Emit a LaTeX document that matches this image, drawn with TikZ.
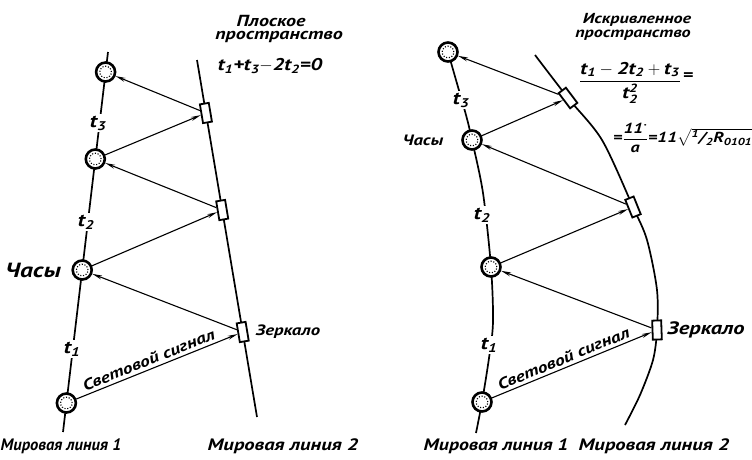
\documentclass[tikz,border=0pt]{standalone}
\usepackage{amsmath}
\usepackage{fontspec}
\setmainfont{PT Sans}[FakeStretch=1.25]
\usetikzlibrary{arrows.meta}
\newcommand{\fsz}[1]{\fontsize{#1}{#1}\selectfont}
\begin{document}
\begin{tikzpicture}[x=1pt,y=-1pt,
  every node/.style={font=\fsz{15.5}\bfseries\itshape},
  clock/.style={circle,draw,line width=2.6pt,fill=white,minimum size=19pt,inner sep=0pt,
     path picture={\draw[line width=1.1pt,dash pattern=on 1.1pt off 1.7pt] (path picture bounding box.center) circle (5.8pt);}},
  mirror/.style={rectangle,draw,line width=1.8pt,fill=white,minimum width=9pt,minimum height=19pt,inner sep=0pt},
  world/.style={line width=1.7pt},
  ray/.style={line width=1.1pt,-{Stealth[length=10pt,width=4pt]}},
  tlab/.style={fill=white,inner sep=2pt,font=\fsz{18}\bfseries\itshape},
  siglab/.style={sloped,above,inner sep=3pt,font=\fsz{15.5}\bfseries\itshape},
  wlab/.style={font=\fsz{16.5}\bfseries\itshape},
]
\useasboundingbox (0,0) rectangle (752,459);
% ---------------- left panel ----------------
\coordinate (L1a) at (108,52);
\coordinate (L1b) at (63,432);
\coordinate (L2a) at (197,60);
\coordinate (L2b) at (257,417);
\draw[world] (L1a) -- (L1b);
\draw[world] (L2a) -- (L2b);
\node[clock] (a1) at (66.4,403) {};
\node[clock] (a2) at (82.2,270) {};
\node[clock] (a3) at (95.3,159) {};
\node[clock] (a4) at (105.6,72) {};
\node[mirror,rotate=9.5] (am1) at (242.7,332) {};
\node[mirror,rotate=9.5] (am2) at (222.2,210) {};
\node[mirror,rotate=9.5] (am3) at (205.9,113) {};
\node[tlab] (at1) at (72,349) {t\textsubscript{1}};
\node[tlab] (at2) at (86,222) {t\textsubscript{2}};
\node[tlab] (at3) at (98,123) {t\textsubscript{3}};
\draw[ray] (a1) -- node[siglab,pos=0.47] (asig) {Световой сигнал} (am1);
\draw[ray] (am1) -- (a2);
\draw[ray] (a2) -- (am2);
\draw[ray] (am2) -- (a3);
\draw[ray] (a3) -- (am3);
\draw[ray] (am3) -- (a4);
\node[font=\fsz{20.5}\bfseries\itshape] (achasy) at (33,270) {Часы};
\node[font=\fsz{15}\bfseries\itshape] (azerk) at (288,332) {Зеркало};
\node[wlab,xscale=0.8,inner sep=0pt] (aml1) at (61,446) {Мировая линия 1};
\node[wlab] (aml2) at (283,446) {Мировая линия 2};
\node[font=\fsz{16}\bfseries\itshape] (aflat1) at (271,21) {Плоское};
\node[font=\fsz{16}\bfseries\itshape] (aflat2) at (279,37) {пространство};
\node[font=\fsz{17}\bfseries\itshape] (aform) at (270,66) {t\textsubscript{1}+t\textsubscript{3}$-$2t\textsubscript{2}=0};
% ---------------- right panel ----------------
\draw[world] plot[smooth] coordinates {(448,52) (456,80) (466,115) (472,140) (483,193) (491,267) (493,322) (489,358) (482,402) (476,433)};
\draw[world] plot[smooth] coordinates {(535,55) (568,98) (602,140) (633,207) (647,240) (657,290) (657,330) (653,360) (640,395) (625,425)};
\node[clock] (b1) at (482,402) {};
\node[clock] (b2) at (491,267) {};
\node[clock] (b3) at (472,140) {};
\node[clock] (b4) at (448,52) {};
\node[mirror,rotate=2] (bm1) at (657,330) {};
\node[mirror,rotate=22] (bm2) at (633,207) {};
\node[mirror,rotate=37] (bm3) at (568,98) {};
\node[tlab] (bt1) at (489,345) {t\textsubscript{1}};
\node[tlab] (bt2) at (482,215) {t\textsubscript{2}};
\node[tlab] (bt3) at (461,100) {t\textsubscript{3}};
\draw[ray] (b1) -- node[siglab,pos=0.47] (bsig) {Световой сигнал} (bm1);
\draw[ray] (bm1) -- (b2);
\draw[ray] (b2) -- (bm2);
\draw[ray] (bm2) -- (b3);
\draw[ray] (b3) -- (bm3);
\draw[ray] (bm3) -- (b4);
\node[font=\fsz{15}\bfseries\itshape] (bchasy) at (423,140) {Часы};
\node[font=\fsz{18}\bfseries\itshape] (bzerk) at (706,330) {Зеркало};
\node[wlab,xscale=0.96] (bml1) at (496,446) {Мировая линия 1};
\node[wlab] (bml2) at (654,446) {Мировая линия 2};
\node[font=\fsz{14.5}\bfseries\itshape] (bcurv1) at (637,20) {Искривленное};
\node[font=\fsz{14.5}\bfseries\itshape] (bcurv2) at (633,35) {пространство};
\node[font=\fsz{17}\bfseries\itshape] (bform1) at (630,83) {$\dfrac{\text{t}_{\text{1}}-\text{2t}_{\text{2}}+\text{t}_{\text{3}}}{\text{t}^{\text{2}}_{\text{2}}}$};
\node[font=\fsz{16}\bfseries\itshape] (bform1eq) at (688,77) {=};
\node[anchor=west,inner sep=0pt,font=\fsz{14.5}\bfseries\itshape] (bform2) at (613,138) {$\text{=}\dfrac{\text{11\textsuperscript{·}}}{\text{a}}\text{=11}\sqrt{\text{\textsuperscript{1}/\textsubscript{2}R\textsubscript{0101}}}$};
\end{tikzpicture}
\end{document}
